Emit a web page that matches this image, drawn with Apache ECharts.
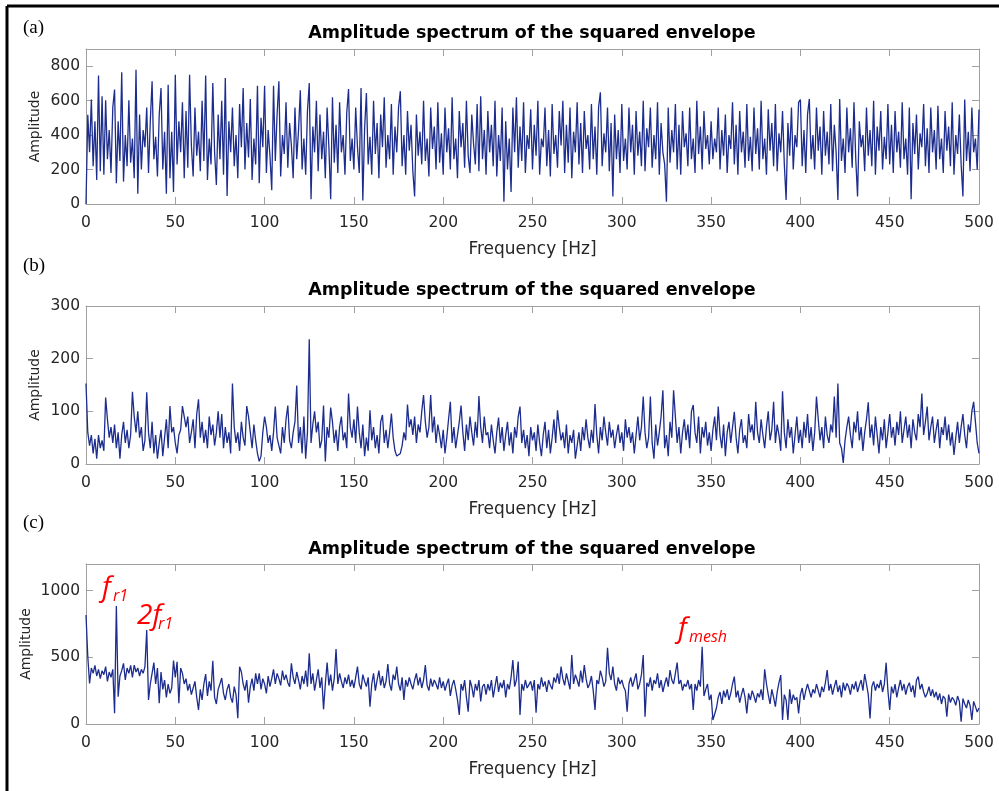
<!DOCTYPE html>
<html>
<head>
<meta charset="utf-8">
<script src="https://cdn.jsdelivr.net/npm/echarts@6/dist/echarts.min.js"></script>
<style>
html,body{margin:0;padding:0;background:#fff;}
#chart{width:999px;height:791px;}
</style>
</head>
<body>
<div id="chart"></div>
<script>
// Frequency resolution of the spectra (Hz per sample), samples start at 0 Hz
const FREQ_STEP = 1;
const xTicks = [0, 50, 100, 150, 200, 250, 300, 350, 400, 450, 500];

// (a) amplitude spectrum of the squared envelope
const ampA = [
0,518,300,606,220,480,140,746,190,625,170,603,260,430,180,560,665,120,480,250,765,130,400,220,603,
240,380,150,780,60,520,200,430,330,560,180,480,713,260,390,160,520,673,200,420,60,693,150,420,70,
750,230,480,300,590,150,540,210,750,340,160,560,280,420,190,600,250,746,140,380,230,702,300,110,520,
260,600,170,732,46,480,300,560,220,400,150,580,330,673,200,470,270,610,140,380,230,686,120,500,330,
686,180,430,280,80,686,250,520,713,160,400,290,590,210,470,340,150,560,260,430,660,200,380,170,540,
702,27,450,300,600,190,520,260,420,150,560,330,27,620,240,460,180,590,300,400,170,530,668,250,380,
200,560,330,180,673,20,440,645,230,390,170,600,290,470,150,520,330,620,210,400,260,580,170,450,300,
560,655,220,400,170,540,310,460,190,44,520,280,420,230,600,250,380,160,560,320,450,200,590,240,410,
170,560,300,440,200,620,260,380,150,540,330,470,210,600,280,180,520,350,230,580,190,625,260,430,170,
540,300,460,220,600,160,400,250,560,13,480,200,380,70,560,300,620,210,450,250,590,180,400,320,550,
200,460,280,600,170,380,330,560,220,430,160,580,290,400,210,540,340,600,180,460,240,560,150,420,300,
590,230,470,180,540,320,400,200,580,260,450,170,560,649,220,410,300,560,190,470,44,520,260,430,180,
580,250,380,200,560,300,460,170,540,280,420,220,600,190,440,330,560,210,400,260,590,170,470,300,230,
13,560,240,430,300,580,200,460,170,540,330,410,220,560,260,380,180,600,290,450,200,540,320,400,230,
480,260,380,300,560,200,430,280,520,180,400,320,590,230,460,170,540,300,420,210,580,250,390,190,560,
290,440,200,600,260,380,170,550,310,470,220,580,190,410,300,540,230,24,470,280,560,200,400,330,590,
606,220,430,180,520,610,260,400,200,560,310,450,170,540,280,420,230,580,190,460,300,24,610,250,380,
180,560,300,440,210,590,260,44,480,330,400,190,560,280,430,220,600,170,450,310,540,200,390,260,580,
230,460,180,540,300,420,210,590,260,380,170,560,27,470,290,520,200,410,330,580,220,440,180,560,300,
430,200,570,260,380,180,540,310,450,220,590,170,400,290,520,230,44,606,250,420,190,560,300,380,200,
548
];

// (b)
const ampB = [
153,60,35,55,20,48,10,55,30,45,25,126,85,50,70,40,75,30,60,10,55,80,40,65,30,
55,137,90,60,100,50,70,25,45,136,60,30,80,20,55,10,40,65,15,50,85,30,110,60,70,
40,20,55,65,110,111,70,90,40,60,85,30,95,123,50,80,40,65,30,90,55,75,35,60,100,
50,95,30,70,40,60,20,153,70,40,60,25,80,50,35,110,90,60,30,75,45,20,5,15,60,
90,70,40,55,25,60,109,50,35,20,70,40,85,111,45,30,60,80,149,40,70,20,90,10,60,
237,40,75,100,60,80,30,45,111,5,70,50,107,80,40,65,25,70,90,45,60,30,134,70,50,
85,40,109,60,30,75,15,50,25,102,45,70,30,55,20,80,93,40,65,30,60,96,50,25,15,
17,20,35,60,45,113,70,85,55,90,40,75,60,100,131,80,50,70,131,60,90,40,75,55,30,
65,20,50,85,118,40,70,30,55,80,111,60,25,75,45,90,60,35,80,50,129,70,40,90,55,
60,30,75,45,20,60,88,40,70,25,55,80,35,60,20,70,50,90,109,40,65,30,55,15,70,
45,60,25,75,40,15,55,80,30,65,20,50,85,40,102,70,45,60,30,75,20,55,40,65,10,
35,60,25,70,45,85,50,30,65,40,114,55,20,70,45,90,60,35,80,50,65,30,55,75,40,
60,25,85,50,70,40,60,20,55,90,45,70,128,60,30,50,128,40,10,75,35,60,90,140,30,
55,15,80,50,140,90,40,70,20,60,85,45,75,30,100,112,60,40,90,20,70,50,80,35,60,
25,65,90,45,109,55,30,75,15,60,80,40,70,99,50,20,65,85,40,55,30,95,60,75,45,
118,60,40,85,55,30,70,100,45,65,118,40,75,55,25,138,60,30,85,50,70,20,55,90,40,
65,30,80,50,95,40,70,25,60,128,85,45,70,30,90,55,40,75,60,128,50,153,40,30,2,
45,70,90,55,30,80,60,100,45,70,25,60,85,117,50,75,35,90,55,20,70,45,85,30,60,
95,50,70,35,80,55,100,40,65,90,50,75,30,85,60,45,95,70,134,55,80,109,45,70,90,
40,65,85,30,70,55,90,45,75,35,60,17,50,80,40,70,95,55,30,75,60,100,118,80,40,
20
];

// (c)
const ampC = [
817,505,305,420,380,440,360,410,340,400,370,430,320,390,350,410,80,885,205,360,400,455,330,420,380,
440,350,442,390,420,360,410,380,430,705,180,300,380,460,300,420,155,390,260,330,200,300,230,270,475,
350,467,155,420,380,300,340,250,300,220,270,320,200,105,260,180,300,375,210,320,250,475,200,150,260,
300,345,230,180,260,300,200,160,280,220,43,430,390,300,250,330,160,280,340,250,380,300,380,260,340,
300,230,360,280,340,410,300,380,340,290,400,330,370,310,280,455,350,300,390,330,260,360,300,400,280,
530,300,380,250,330,410,270,350,110,300,460,290,370,250,340,563,300,380,320,270,350,300,370,280,330,
270,350,430,300,260,370,320,280,350,130,300,380,250,330,400,290,360,270,320,450,300,250,370,330,430,
300,250,350,180,330,280,350,300,260,330,380,290,350,270,330,442,290,250,340,280,330,300,260,350,270,
320,250,300,340,210,290,330,260,180,68,300,250,330,200,93,330,280,200,300,250,330,170,280,300,220,
300,250,330,200,280,360,240,310,270,330,200,300,260,350,480,280,330,468,68,300,250,330,270,280,320,
250,330,85,300,260,350,280,320,240,330,290,260,350,310,380,300,430,340,290,380,320,260,517,300,370,
330,280,400,310,442,340,270,300,360,250,105,330,300,400,350,280,320,572,380,330,430,300,250,350,300,
330,280,250,93,300,350,280,330,380,260,300,370,517,55,310,280,350,250,330,300,380,270,330,240,300,
350,280,405,330,300,380,460,300,330,250,300,280,330,260,300,105,300,250,330,280,580,210,260,300,180,
220,30,17,120,200,240,150,250,200,260,180,230,300,355,200,250,160,220,270,200,80,230,180,250,210,
160,230,200,260,180,410,300,220,150,260,200,130,240,310,367,30,220,180,30,260,150,220,180,200,80,
220,270,180,250,300,292,200,260,230,300,250,200,280,240,310,405,250,300,220,280,330,240,290,200,310,
250,305,280,220,300,260,320,240,290,330,250,375,300,220,42,280,320,250,300,270,330,240,300,460,250,
105,280,230,300,200,270,330,250,300,220,280,310,240,290,200,330,355,260,300,240,200,230,280,210,260,
200,240,180,230,150,210,190,55,220,160,200,180,140,210,170,17,190,150,120,180,140,30,170,130,90,
120
];

const panelLabels = ['(a)', '(b)', '(c)'];
const titleText = 'Amplitude spectrum of the squared envelope';
const yMax = [900, 300, 1200];
const yStep = [200, 100, 500];

const series3 = [ampA, ampB, ampC];

const chart = echarts.init(document.getElementById('chart'), null, {renderer: 'canvas'});

const AX = '#a0a0a0';
const LBL = '#262626';
const FONT = 'DejaVu Sans, Verdana, sans-serif';

const gridTop = [49, 306, 564];
const gridH = [155, 158, 160];
const yNameGap = [44, 44, 53];

const grids = [], xAxes = [], yAxes = [], series = [];
for (let i = 0; i < 3; i++) {
  grids.push({left: 86, right: 20, top: gridTop[i], height: gridH[i], containLabel: false});
  const common = {
    gridIndex: i, type: 'value', min: 0, max: 500, interval: 50,
    axisLine: {show: true, onZero: false, lineStyle: {color: AX, width: 1}},
    axisTick: {show: true, inside: true, length: 7, lineStyle: {color: AX}},
    splitLine: {show: false}
  };
  xAxes.push(Object.assign({}, common, {
    position: 'bottom',
    axisLabel: {color: LBL, fontSize: 15.5, margin: 11, fontFamily: FONT},
    name: 'Frequency [Hz]', nameLocation: 'middle', nameGap: 37,
    nameTextStyle: {color: LBL, fontSize: 17, fontFamily: FONT}
  }));
  xAxes.push(Object.assign({}, common, {position: 'top', axisLabel: {show: false}}));
  const st = yStep[i];
  const yc = {
    gridIndex: i, type: 'value', min: 0, max: yMax[i], interval: st,
    axisLine: {show: true, onZero: false, lineStyle: {color: AX, width: 1}},
    axisTick: {show: true, inside: true, length: 7, lineStyle: {color: AX}},
    splitLine: {show: false}
  };
  yAxes.push(Object.assign({}, yc, {
    position: 'left',
    axisLabel: {color: LBL, fontSize: 15.5, margin: 6, fontFamily: FONT,
      formatter: v => (v % st === 0 ? String(v) : '')},
    name: 'Amplitude', nameLocation: 'middle', nameGap: yNameGap[i], nameMoveOverlap: false,
    nameTextStyle: {color: LBL, fontSize: 14, fontFamily: FONT}
  }));
  yAxes.push(Object.assign({}, yc, {position: 'right', axisLabel: {show: false}}));
  series.push({
    type: 'line', xAxisIndex: 2 * i, yAxisIndex: 2 * i,
    data: series3[i].map((v, k) => [k * FREQ_STEP, v]),
    showSymbol: false, symbol: 'none',
    lineStyle: {color: '#1d2d8e', width: 1.3},
    silent: true
  });
}

const graphics = [];
// outer frame lines (left and top)
graphics.push({type: 'line', shape: {x1: 7, y1: 6, x2: 999, y2: 6}, style: {stroke: '#000', lineWidth: 3}});
graphics.push({type: 'line', shape: {x1: 7, y1: 6, x2: 7, y2: 791}, style: {stroke: '#000', lineWidth: 3}});
const titleY = [33, 290, 549];
const labelY = [28, 266, 523];
for (let i = 0; i < 3; i++) {
  graphics.push({type: 'text', x: 532, y: titleY[i], style: {
    text: titleText, fill: '#000', fontSize: 17.5, fontWeight: 'bold', fontFamily: FONT,
    align: 'center', verticalAlign: 'middle'}});
  graphics.push({type: 'text', x: 23, y: labelY[i], style: {
    text: panelLabels[i], fill: '#000', fontSize: 19, fontFamily: 'Liberation Serif, Times New Roman, serif',
    align: 'left', verticalAlign: 'middle'}});
}
// peak annotations
const ANN = 'Open Sans, Noto Sans, sans-serif';
function ann(x, y, main, sub, subDx, subDy) {
  graphics.push({type: 'text', x: x, y: y, style: {text: main, fill: '#ff0000', fontSize: 28,
    fontStyle: 'italic', fontFamily: ANN, align: 'left', verticalAlign: 'middle'}});
  graphics.push({type: 'text', x: x + subDx, y: y + subDy, style: {text: sub, fill: '#ff0000', fontSize: 16,
    fontStyle: 'italic', fontFamily: ANN, align: 'left', verticalAlign: 'middle'}});
}
ann(102, 588, 'f', 'r1', 11, 8);
ann(137, 616, '2f', 'r1', 21, 8);
ann(678, 629, 'f', 'mesh', 11, 8);

chart.setOption({
  animation: false,
  backgroundColor: '#fff',
  grid: grids, xAxis: xAxes, yAxis: yAxes, series: series,
  graphic: graphics
});
</script>
</body>
</html>
